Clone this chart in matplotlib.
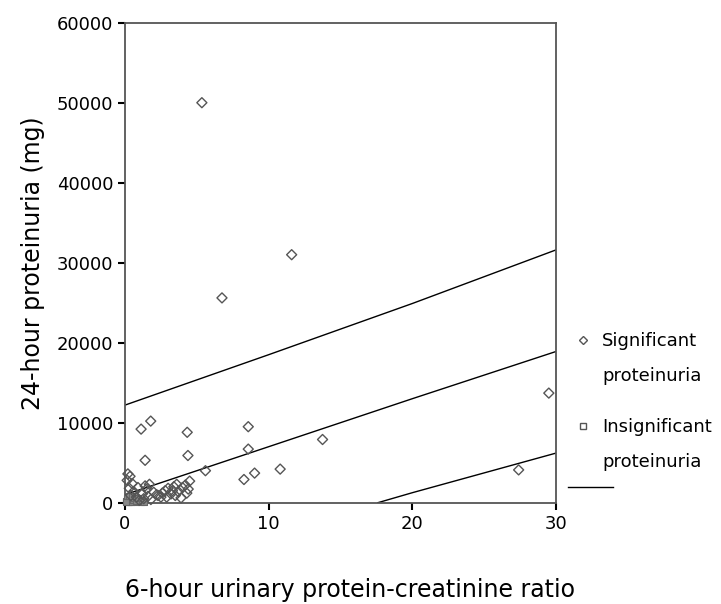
import matplotlib.pyplot as plt
from matplotlib.lines import Line2D

# significant proteinuria (diamonds)
sig_x = [5.35, 11.6, 6.75, 1.12, 1.79, 4.33, 8.58, 13.75, 1.40, 4.38, 8.58, 5.60, 9.02, 10.8, 8.28, 27.4, 29.5,
         0.2, 0.35, 0.5, 0.3, 0.6, 0.9, 1.4, 1.7, 1.5, 1.2, 1.6, 2.0, 2.3, 2.5, 2.8, 3.0, 3.2, 3.4, 3.5,
         3.7, 3.9, 4.2, 4.4, 4.5, 4.3, 2.9, 3.3, 2.6, 0.8, 1.0, 1.3, 0.4, 3.6, 4.0, 2.2, 1.8, 0.15]
sig_y = [50000, 31000, 25600, 9200, 10200, 8800, 9500, 7900, 5300, 5900, 6700, 4000, 3700, 4200, 2900, 4100, 13700,
         3600, 3300, 2400, 1800, 1400, 1900, 2100, 2300, 1700, 1100, 800, 1300, 900, 700, 1500, 1800, 1100, 2000, 900,
         1400, 600, 2200, 1700, 2700, 1200, 700, 1500, 1200, 700, 300, 500, 900, 2300, 1900, 1000, 400, 2800]

# insignificant proteinuria (squares), clustered at the origin
ins_x = [0.1, 0.2, 0.3, 0.4, 0.5, 0.6, 0.7, 0.8, 0.9, 1.0, 1.1, 1.2, 0.15, 0.25, 0.35, 0.45, 0.55, 0.65, 0.75, 0.05, 0.3, 0.5, 0.9, 1.3]
ins_y = [200, 400, 100, 300, 500, 200, 400, 100, 300, 200, 100, 300, 600, 50, 700, 150, 350, 550, 250, 100, 900, 800, 600, 150]

# regression line and prediction bounds
line_x = [0, 10, 20, 30]
upper_y = [12200, 18500, 24900, 31600]
fit_y = [1000, 7000, 13000, 18900]
lower_x = [17.6, 20, 30]
lower_y = [0, 1250, 6200]

W, H = 721, 604
fig = plt.figure(figsize=(W / 100, H / 100), dpi=100)
ax = fig.add_axes([125 / W, 1 - 502.7 / H, 431 / W, 480 / H])

ax.scatter(ins_x, ins_y, marker='s', s=24, facecolors='#888888', edgecolors='#666666', linewidths=0.8, clip_on=False, zorder=3)
ax.scatter(sig_x, sig_y, marker='D', s=26, facecolors='none', edgecolors='#555555', linewidths=1.0, clip_on=False, zorder=4)
ax.plot(line_x, upper_y, color='black', lw=1.0)
ax.plot(line_x, fit_y, color='black', lw=1.0)
ax.plot(lower_x, lower_y, color='black', lw=1.0)

ax.set_xlim(0, 30)
ax.set_ylim(0, 60000)
ax.set_xticks([0, 10, 20, 30])
ax.set_yticks(range(0, 60001, 10000))
ax.tick_params(labelsize=13, length=5, width=1.5, direction='out', color='black')
for s in ax.spines.values():
    s.set_color('#555555')
    s.set_linewidth(1.3)

ax.set_xlabel('6-hour urinary protein-creatinine ratio', fontsize=17, va='center')
ax.xaxis.set_label_coords(0.523, -0.182)
ax.set_ylabel('24-hour proteinuria (mg)', fontsize=17, va='center')
ax.yaxis.set_label_coords(-0.213, 0.5)

# legend, placed by hand to the right of the plot
def px(x, y):
    return x / W, 1 - y / H

fig.add_artist(Line2D([px(582.7, 0)[0]], [px(0, 340)[1]], marker='D', ls='none', mfc='none', mec='#555555', ms=4.2, mew=1.0))
fig.add_artist(Line2D([px(582.7, 0)[0]], [px(0, 426)[1]], marker='s', ls='none', mfc='none', mec='#555555', ms=4.2, mew=1.0))
fig.add_artist(Line2D([568 / W, 613 / W], [px(0, 487)[1]] * 2, color='black', lw=1.0))
for label, y in [('Significant', 341), ('proteinuria', 376), ('Insignificant', 427), ('proteinuria', 462)]:
    fig.text(602 / W, 1 - y / H, label, fontsize=13, va='center', ha='left')

fig.savefig('out.png', dpi=100)
